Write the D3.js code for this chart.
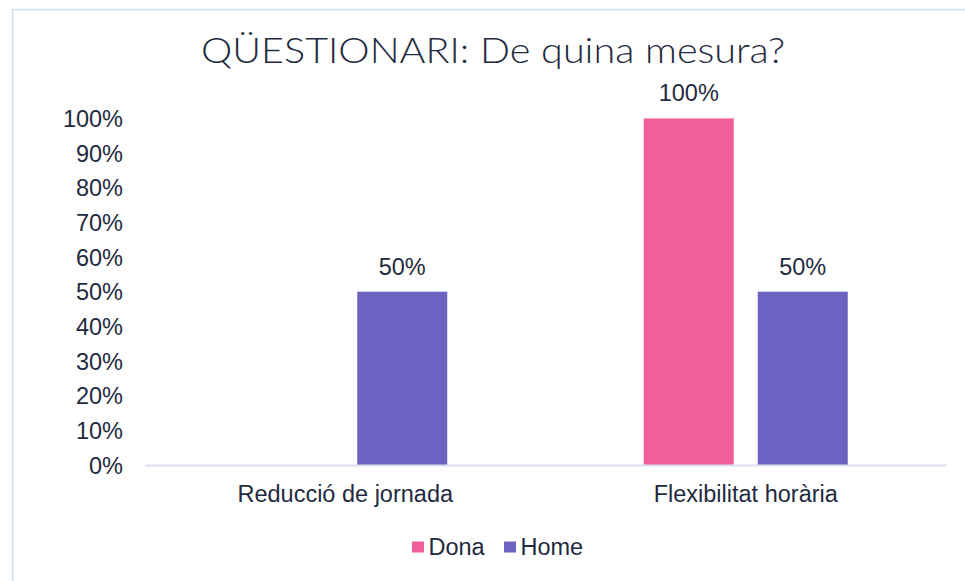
<!DOCTYPE html>
<html>
<head>
<meta charset="utf-8">
<script src="https://cdn.jsdelivr.net/npm/d3@7"></script>
<style>
  html, body { margin: 0; padding: 0; background: #fff; }
  svg { display: block; }
</style>
</head>
<body>
<svg id="chart" width="965" height="581"></svg>
<script>
const title = "QÜESTIONARI: De quina mesura?";
const categories = ["Reducció de jornada", "Flexibilitat horària"];
const seriesNames = ["Dona", "Home"];
const dona = [0, 1.0];
const home = [0.5, 0.5];
const yTicks = [0, 0.1, 0.2, 0.3, 0.4, 0.5, 0.6, 0.7, 0.8, 0.9, 1.0];
const colors = ["#F15E9A", "#6C62C1"];

const seriesValues = [dona, home];
const textColor = "#1f2a40";
const labelFont = "'Liberation Sans', Arial, sans-serif";

const svg = d3.select("#chart");

// chart border
svg.append("rect")
  .attr("x", 12.5).attr("y", 9.5)
  .attr("width", 1000).attr("height", 1000)
  .attr("fill", "#fff")
  .attr("stroke", "#d0deef").attr("stroke-width", 1.5);

const plot = { left: 145, right: 946, top: 118.4, bottom: 465 };

const x0 = d3.scaleBand().domain(categories).range([plot.left, plot.right]).padding(0);
const groupW = 204;
const x1 = d3.scaleBand().domain(seriesNames).range([0, groupW]).paddingInner(24 / 114).paddingOuter(0);
const y = d3.scaleLinear().domain([0, 1]).range([plot.bottom, plot.top]);
const pct = d3.format(".0%");

// title
svg.append("text")
  .attr("x", 493).attr("y", 63)
  .attr("text-anchor", "middle")
  .attr("font-family", "Lato, 'Open Sans', sans-serif")
  .attr("font-weight", 300)
  .attr("font-size", 35)
  .attr("textLength", 584)
  .attr("lengthAdjust", "spacingAndGlyphs")
  .attr("fill", textColor)
  .text(title);

// y axis labels
const yAxis = d3.axisLeft(y).tickValues(yTicks).tickFormat(pct).tickSize(0).tickPadding(0);
const yg = svg.append("g").attr("transform", `translate(123,0)`).call(yAxis);
yg.select(".domain").remove();
yg.selectAll("text")
  .attr("font-family", labelFont)
  .attr("font-size", 23.5)
  .attr("fill", textColor)
  .attr("dy", "0.35em");

// bars
const data = [];
categories.forEach((c, i) => {
  seriesNames.forEach((s, j) => {
    data.push({ cat: c, series: s, value: seriesValues[j][i], color: colors[j] });
  });
});

const groupOffset = (x0.bandwidth() - groupW) / 2;

svg.append("g").selectAll("rect")
  .data(data.filter(d => d.value > 0))
  .join("rect")
  .attr("x", d => x0(d.cat) + groupOffset + x1(d.series))
  .attr("y", d => y(d.value))
  .attr("width", x1.bandwidth())
  .attr("height", d => y(0) - y(d.value))
  .attr("fill", d => d.color);

// data labels
svg.append("g").selectAll("text")
  .data(data.filter(d => d.value > 0))
  .join("text")
  .attr("x", d => x0(d.cat) + groupOffset + x1(d.series) + x1.bandwidth() / 2)
  .attr("y", d => y(d.value) - 17)
  .attr("text-anchor", "middle")
  .attr("font-family", labelFont)
  .attr("font-size", 23.5)
  .attr("fill", textColor)
  .text(d => pct(d.value));

// x axis
const xAxis = d3.axisBottom(x0).tickSize(0).tickPadding(0);
const xg = svg.append("g").attr("transform", `translate(0,${plot.bottom})`).call(xAxis);
xg.select(".domain").attr("stroke", "#d9e0ee").attr("stroke-width", 2);
xg.selectAll("text")
  .attr("font-family", labelFont)
  .attr("font-size", 23.5)
  .attr("fill", textColor)
  .attr("y", 37)
  .attr("dy", 0);

// legend
const legendItems = [
  { name: seriesNames[0], color: colors[0], sx: 412 },
  { name: seriesNames[1], color: colors[1], sx: 504 }
];
const lg = svg.append("g");
legendItems.forEach(it => {
  lg.append("rect").attr("x", it.sx).attr("y", 541.5).attr("width", 12).attr("height", 11).attr("fill", it.color);
  lg.append("text").attr("x", it.sx + 16.5).attr("y", 555)
    .attr("font-family", labelFont).attr("font-size", 23.5)
    .attr("fill", textColor).text(it.name);
});
</script>
</body>
</html>
